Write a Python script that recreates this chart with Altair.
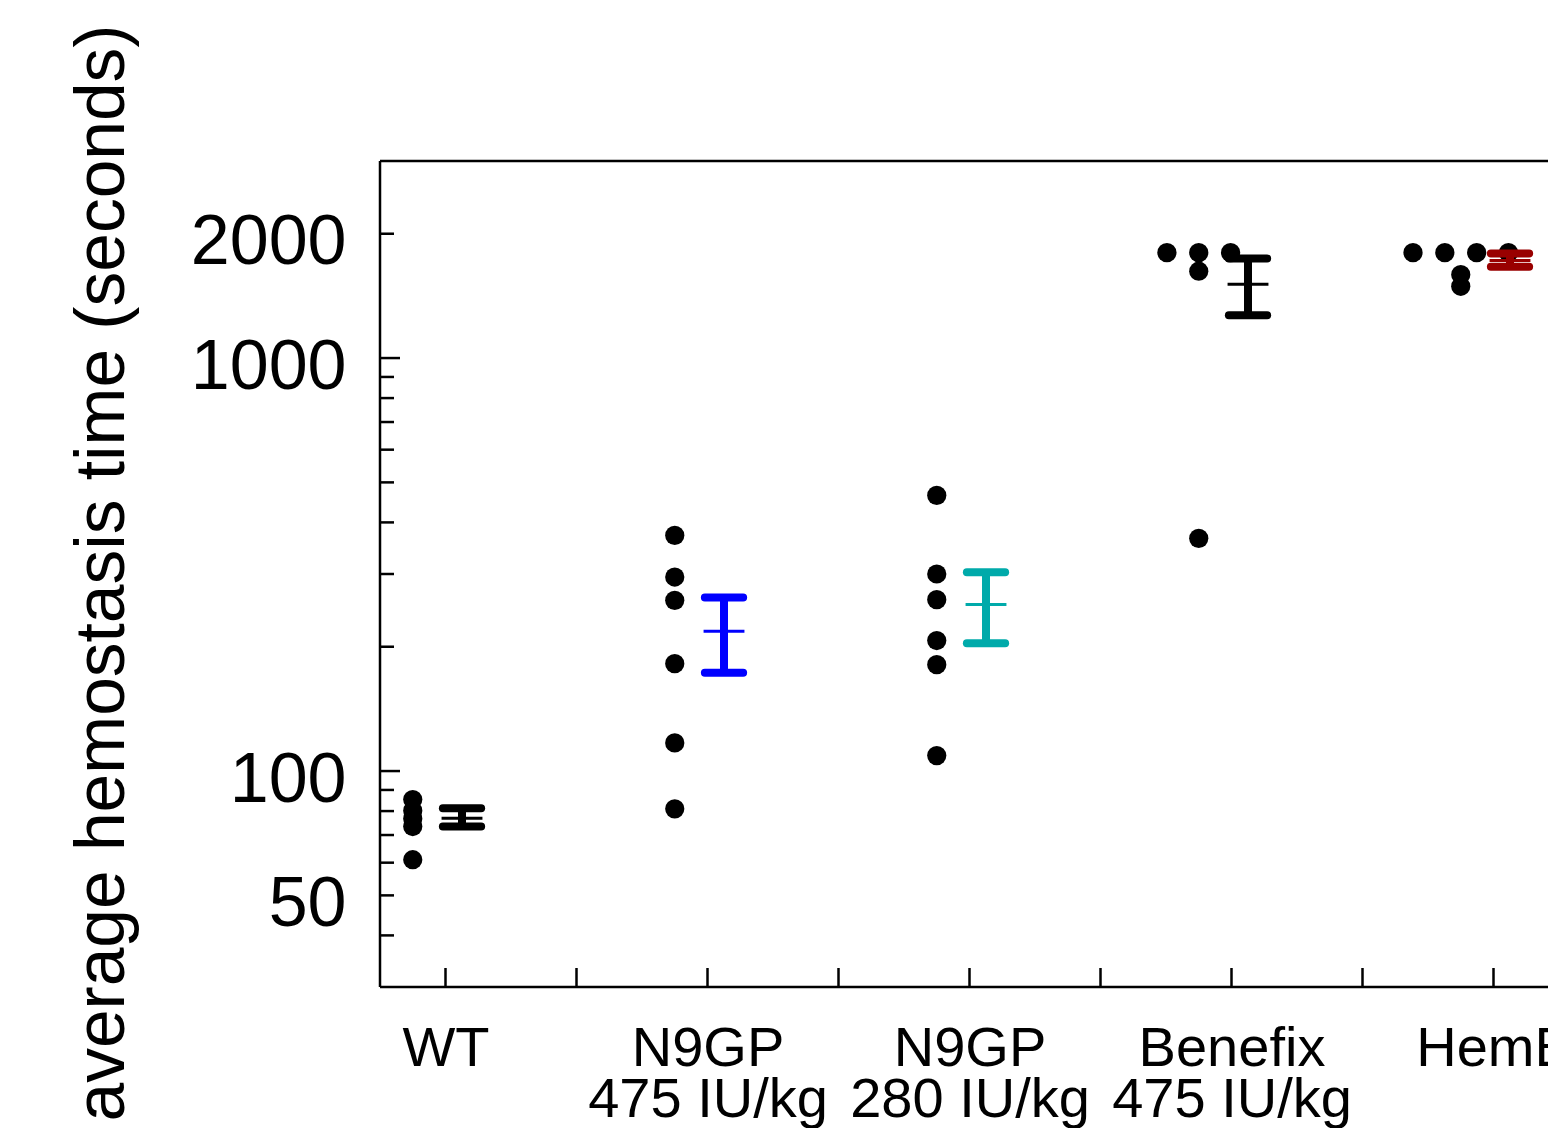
import json
import altair as alt
import pandas as pd

# ---------------- data ----------------
groups = ["WT", "N9GP 475 IU/kg", "N9GP 280 IU/kg", "Benefix 475 IU/kg", "HemB"]
label_lines = [["WT"], ["N9GP", "475 IU/kg"], ["N9GP", "280 IU/kg"],
               ["Benefix", "475 IU/kg"], ["HemB"]]
bar_colors = ["#000000", "#0000ff", "#00aaaa", "#000000", "#990000"]

wt_times = [85.3, 80.2, 76.7, 73.4, 61.0]
n9gp475_times = [372, 295, 259, 182, 117, 81]
n9gp280_times = [465, 300, 260, 207, 181, 109]
benefix_times = [1800, 1800, 1800, 1623, 366]
hemb_times = [1800, 1800, 1800, 1800, 1592, 1492]

means = [76.9, 218, 253, 1510, 1723]
lower = [73.4, 173, 204, 1270, 1664]
upper = [81.3, 263, 303, 1742, 1792]

y_tick_labels = [50, 100, 1000, 2000]
y_major_ticks = [100, 1000]
y_minor_ticks = [40, 50, 60, 70, 80, 90, 200, 300, 400, 500, 600, 700, 800, 900, 2000]
x_ticks = [1, 1.5, 2, 2.5, 3, 3.5, 4, 4.5, 5]

# ---------------- layout ----------------
PAD_L, PAD_T, PAD_B = 372, 153, 141
W, H = 1540 - PAD_L, 826
PX_PER_GROUP = 262
FONT = "Liberation Sans"
DOT_DX, DOT_STEP = -0.125, 0.1215
BAR_DX, CAP_HALF, MEAN_HALF = 0.063, 0.073, 0.078

xscale = alt.Scale(domain=[0.75, 0.75 + W / PX_PER_GROUP], nice=False, zero=False)
yscale = alt.Scale(type="log", domain=[30, 3000], nice=False)

# dots: identical values are spread side by side (beeswarm)
rows = []
for gi, times in enumerate([wt_times, n9gp475_times, n9gp280_times,
                            benefix_times, hemb_times], start=1):
    seen = {}
    for v in times:
        n = times.count(v)
        k = seen.get(v, 0)
        seen[v] = k + 1
        rows.append({"g": gi, "t": v, "slot": k - (n - 1) / 2})
dots = pd.DataFrame(rows)

bars = pd.DataFrame({"g": list(range(1, len(groups) + 1)), "mean": means,
                     "lo": lower, "hi": upper, "color": bar_colors})

label_expr = ""
for i, lines in enumerate(label_lines, start=1):
    label_expr += f"datum.value == {i} ? {json.dumps(lines)} : "
label_expr += "''"

xaxis = alt.Axis(values=list(range(1, len(groups) + 1)), labelExpr=label_expr,
                 labelFontSize=56, labelFont=FONT, labelColor="black",
                 labelPadding=78, labelBaseline="alphabetic", labelLineHeight=51,
                 labelAlign="center", labelFlush=False, labelOverlap=False,
                 labelLimit=0, ticks=False, tickSize=0, domain=False, grid=False,
                 title=None)
yaxis = alt.Axis(values=y_tick_labels, format="d", labelFontSize=70, labelFont=FONT,
                 labelColor="black", labelPadding=34, labelBaseline="alphabetic",
                 labelOffset=30, labelFlush=False, labelOverlap=False, labelLimit=0,
                 ticks=False, tickSize=0, domain=False, grid=False,
                 title="average hemostasis time (seconds)", titleFont=FONT,
                 titleFontSize=69.5, titleFontWeight="normal", titleColor="black",
                 titleAngle=270, titleX=-257, titleY=H / 2 - 1.5, titleLimit=0,
                 titleAlign="center", titleBaseline="alphabetic")

one = pd.DataFrame({"k": [0]})
LW = 2.5
top_border = alt.Chart(one).mark_rule(color="black", strokeWidth=LW).encode(
    x=alt.value(0), x2=alt.value(W + 10), y=alt.value(0))
left_border = alt.Chart(one).mark_rule(color="black", strokeWidth=LW).encode(
    x=alt.value(0), y=alt.value(0), y2=alt.value(H))
bottom_border = alt.Chart(one).mark_rule(color="black", strokeWidth=LW).encode(
    x=alt.value(0), x2=alt.value(W + 10), y=alt.value(H))

ymaj = alt.Chart(pd.DataFrame({"v": y_major_ticks})).mark_rule(
    color="black", strokeWidth=LW).encode(
    y=alt.Y("v:Q", scale=yscale, axis=yaxis), x=alt.value(0), x2=alt.value(20))
ymin = alt.Chart(pd.DataFrame({"v": y_minor_ticks})).mark_rule(
    color="black", strokeWidth=LW).encode(
    y=alt.Y("v:Q", scale=yscale, axis=yaxis), x=alt.value(0), x2=alt.value(14))
xt = alt.Chart(pd.DataFrame({"p": x_ticks})).mark_rule(
    color="black", strokeWidth=LW).encode(
    x=alt.X("p:Q", scale=xscale, axis=xaxis), y=alt.value(H), y2=alt.value(H - 19))

dot_layer = alt.Chart(dots).transform_calculate(
    xd=f"datum.g + ({DOT_DX}) + datum.slot * {DOT_STEP}"
).mark_circle(size=370, color="black", opacity=1).encode(
    x=alt.X("xd:Q", scale=xscale, axis=xaxis),
    y=alt.Y("t:Q", scale=yscale, axis=yaxis))

bar_base = alt.Chart(bars).transform_calculate(
    xe=f"datum.g + {BAR_DX}",
    xa=f"datum.g + {BAR_DX} - {CAP_HALF}",
    xb=f"datum.g + {BAR_DX} + {CAP_HALF}",
    xm1=f"datum.g + {BAR_DX} - {MEAN_HALF}",
    xm2=f"datum.g + {BAR_DX} + {MEAN_HALF}")
col = alt.Color("color:N", scale=None)

vert = bar_base.mark_rule(strokeWidth=8).encode(
    x=alt.X("xe:Q", scale=xscale, axis=xaxis),
    y=alt.Y("lo:Q", scale=yscale, axis=yaxis), y2="hi:Q", color=col)
cap_hi = bar_base.mark_rule(strokeWidth=8, strokeCap="round").encode(
    x=alt.X("xa:Q", scale=xscale, axis=xaxis), x2="xb:Q",
    y=alt.Y("hi:Q", scale=yscale, axis=yaxis), color=col)
cap_lo = bar_base.mark_rule(strokeWidth=8, strokeCap="round").encode(
    x=alt.X("xa:Q", scale=xscale, axis=xaxis), x2="xb:Q",
    y=alt.Y("lo:Q", scale=yscale, axis=yaxis), color=col)
mean_line = bar_base.mark_rule(strokeWidth=3).encode(
    x=alt.X("xm1:Q", scale=xscale, axis=xaxis), x2="xm2:Q",
    y=alt.Y("mean:Q", scale=yscale, axis=yaxis), color=col)

chart = alt.layer(
    top_border, left_border, bottom_border, ymaj, ymin, xt, dot_layer,
    vert, cap_hi, cap_lo, mean_line
).properties(
    width=W, height=H,
    autosize=alt.AutoSizeParams(type="none"),
    padding={"left": PAD_L, "top": PAD_T, "right": 0, "bottom": PAD_B},
    background="white",
).configure_view(stroke=None)

chart.save("out.html", embed_options={"renderer": "svg", "actions": False})
